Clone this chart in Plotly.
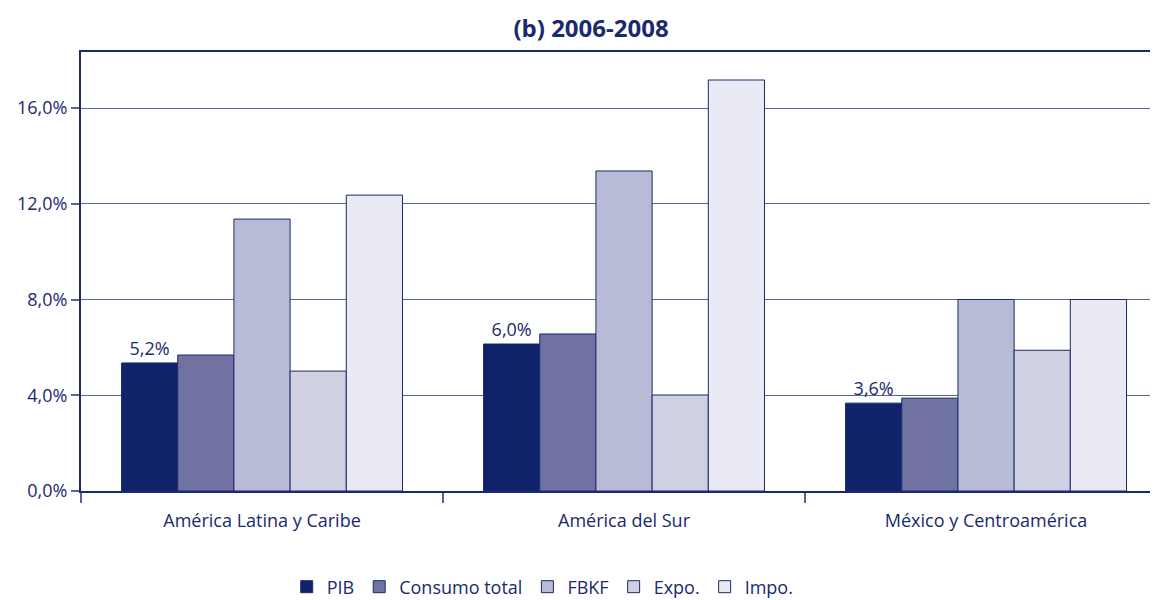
import plotly.graph_objects as go

regions = ["América Latina y Caribe", "América del Sur", "México y Centroamérica"]
series = ["PIB", "Consumo total", "FBKF", "Expo.", "Impo."]
pib = [5.35, 6.14, 3.67]
consumo = [5.68, 6.56, 3.88]
fbkf = [11.36, 13.37, 8.0]
expo = [5.01, 4.01, 5.88]
impo = [12.36, 17.17, 8.0]
pib_labels = ["5,2%", "6,0%", "3,6%"]
y_ticks = [0, 4, 8, 12, 16]
y_ticktext = ["0,0%", "4,0%", "8,0%", "12,0%", "16,0%"]
colors = ["#10236a", "#7072a2", "#b8bbd6", "#cfd1e3", "#e9eaf3"]

navy = "#1a2a6c"
font = "Open Sans"

fig = go.Figure()
for name, vals, col in zip(series, [pib, consumo, fbkf, expo, impo], colors):
    kw = {}
    if name == "PIB":
        kw = dict(text=pib_labels, textposition="outside", cliponaxis=False,
                  textfont=dict(size=18, color=navy, family=font))
    fig.add_trace(go.Bar(x=regions, y=vals, name=name, marker_color=col,
                         marker_line=dict(color=navy, width=1), **kw))

# the page body adds an 8px margin, so the figure is 8px smaller each way
fig.update_layout(
    width=1150, height=592,
    barmode="group", bargap=0.224, bargroupgap=0,
    plot_bgcolor="white", paper_bgcolor="white",
    margin=dict(l=73, r=0, t=44, b=109, autoexpand=False),
    font=dict(family=font, color=navy, size=18),
    title=dict(text="<b>(b) 2006-2008</b>", x=0.507, xanchor="center",
               yref="container", y=0.966, yanchor="middle",
               font=dict(size=24, color=navy, family=font)),
    showlegend=True,
    legend=dict(orientation="h", x=0.191, xanchor="left", yref="container", y=0.022,
                yanchor="middle", font=dict(size=18, color=navy, family=font),
                itemwidth=30, traceorder="normal"),
)
fig.update_xaxes(range=[-0.5, 2.475], showline=True, linecolor=navy, linewidth=2,
                 mirror=True, ticks="outside", tickson="boundaries", ticklen=10,
                 tickcolor="#5a6496", tickwidth=1.5, showgrid=False, automargin=False,
                 ticklabelstandoff=12, tickfont=dict(size=18, color=navy))
fig.update_yaxes(range=[0, 18.34], tickvals=y_ticks, ticktext=y_ticktext,
                 showline=True, linecolor=navy, linewidth=2, automargin=False,
                 ticks="outside", ticklen=8, tickcolor="#5a6496", tickwidth=1.5,
                 showgrid=True, gridcolor="#5a6496", gridwidth=1.2, zeroline=False,
                 tickfont=dict(size=18, color=navy))

fig.write_html("out.html")
